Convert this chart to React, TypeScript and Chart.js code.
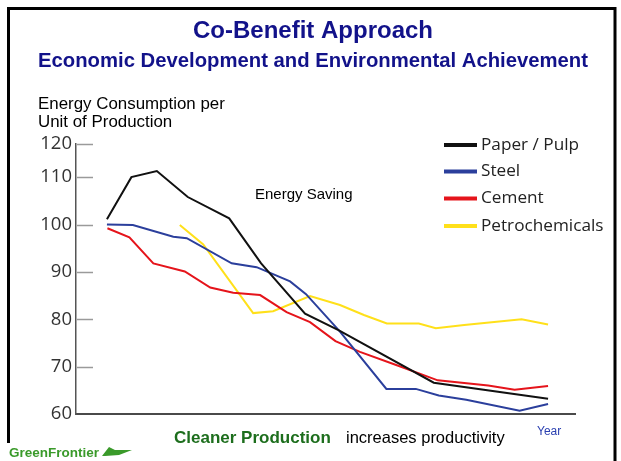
import React, { useEffect, useRef } from "react";
import { Chart, registerables } from "chart.js";

Chart.register(...registerables);

// ---- data ----
const seriesNames = ["Paper / Pulp", "Steel", "Cement", "Petrochemicals"];
const seriesColors = ["#111111", "#2b3f9c", "#e5141b", "#ffe01a"];

const paperX = [6.2, 11.1, 16.2, 22.4, 30.7, 37.1, 45.9, 52.6, 71.7, 94.6];
const paperY = [101.1, 110, 111.3, 105.8, 101.3, 91.8, 81.2, 77.7, 66.6, 63.2];

const steelX = [6.2, 11.4, 19.5, 22.2, 31.2, 36.2, 42.9, 46.1, 52.9, 62.2, 68.1, 72.7, 78.2, 88.9, 94.6];
const steelY = [100, 99.9, 97.4, 97.1, 91.8, 91.0, 88.0, 85.3, 77.4, 65.3, 65.3, 63.9, 63.0, 60.7, 62.1];

const cementX = [6.3, 10.7, 15.5, 21.8, 26.9, 31.5, 36.9, 42.2, 46.9, 52.0, 56.9, 64.3, 72.5, 82.6, 87.9, 94.6];
const cementY = [99.2, 97.3, 91.8, 90.1, 86.7, 85.6, 85.1, 81.5, 79.4, 75.4, 73.1, 70.3, 67.1, 66.0, 65.1, 65.9];

const petroX = [20.8, 25.5, 35.5, 39.5, 46.9, 52.9, 57.7, 62.3, 68.7, 72.1, 77.8, 89.3, 94.6];
const petroY = [99.9, 95.8, 81.3, 81.7, 84.9, 83.0, 80.9, 79.1, 79.1, 78.1, 78.8, 80.0, 78.9];

const yTickValues = [60, 70, 80, 90, 100, 110, 117.1];
const yTickLabels = ["60", "70", "80", "90", "100", "110", "120"];

const titleText = "Co-Benefit Approach";
const subtitleText = "Economic Development and Environmental Achievement";
const yAxisTitleLines = ["Energy Consumption per", "Unit of Production"];
const annotationText = "Energy Saving";
const footerBold = "Cleaner Production";
const footerRest = "increases productivity";
const xAxisTitle = "Year";
const logoText = "GreenFrontier";

const seriesX = [paperX, steelX, cementX, petroX];
const seriesY = [paperY, steelY, cementY, petroY];

const NAVY = "#12128a";
const ARIAL = "'Liberation Sans', Arial, sans-serif";
const SOFT = "'Open Sans', sans-serif";

const decorPlugin = {
  id: "decor",
  beforeDatasetsDraw(chart: any) {
    const ctx = chart.ctx;
    const y = chart.scales.y;
    const area = chart.chartArea;
    ctx.save();
    ctx.strokeStyle = "#9a9a9a";
    ctx.lineWidth = 1.5;
    yTickValues.forEach((v, i) => {
      if (i === 0) return;
      const py = Math.round(y.getPixelForValue(v)) + 0.5;
      ctx.beginPath();
      ctx.moveTo(area.left + 1, py);
      ctx.lineTo(area.left + 17, py);
      ctx.stroke();
    });
    ctx.restore();
  },
  afterDraw(chart: any) {
    const ctx = chart.ctx;
    ctx.save();
    // frame
    ctx.strokeStyle = "#000";
    ctx.lineWidth = 3;
    ctx.beginPath();
    ctx.moveTo(8.5, 443);
    ctx.lineTo(8.5, 8.5);
    ctx.lineTo(615, 8.5);
    ctx.lineTo(615, 470);
    ctx.stroke();

    // titles
    ctx.fillStyle = NAVY;
    ctx.textAlign = "center";
    ctx.textBaseline = "alphabetic";
    ctx.font = `bold 24px ${ARIAL}`;
    ctx.fillText(titleText, 313, 38);
    ctx.font = `bold 20.3px ${ARIAL}`;
    ctx.fillText(subtitleText, 313, 67);

    // y axis title
    ctx.fillStyle = "#000";
    ctx.textAlign = "left";
    ctx.font = `16.9px ${ARIAL}`;
    ctx.fillText(yAxisTitleLines[0], 38, 109);
    ctx.fillText(yAxisTitleLines[1], 38, 127);

    // annotation
    ctx.font = `15px ${ARIAL}`;
    ctx.fillText(annotationText, 255, 199);

    // footer
    ctx.font = `bold 17px ${ARIAL}`;
    ctx.fillStyle = "#1d6e1d";
    ctx.fillText(footerBold, 174, 443);
    ctx.font = `16.5px ${ARIAL}`;
    ctx.fillStyle = "#000";
    ctx.fillText(footerRest, 346, 443);

    // x axis title
    ctx.font = `12px ${ARIAL}`;
    ctx.fillStyle = "#2a3fb0";
    ctx.fillText(xAxisTitle, 537, 435);

    // legend
    const rows = [145, 171.5, 198.5, 226];
    ctx.font = `17.2px ${SOFT}`;
    ctx.textBaseline = "middle";
    seriesNames.forEach((name, i) => {
      const ry = rows[i];
      ctx.strokeStyle = seriesColors[i];
      ctx.lineWidth = 4;
      ctx.beginPath();
      ctx.moveTo(444, ry);
      ctx.lineTo(477, ry);
      ctx.stroke();
      ctx.fillStyle = "#222";
      ctx.fillText(name, 481, ry);
    });

    // logo
    ctx.textBaseline = "alphabetic";
    ctx.fillStyle = "#3a9a2a";
    ctx.font = `bold 13.5px ${ARIAL}`;
    ctx.fillText(logoText, 9, 457);
    ctx.beginPath();
    ctx.moveTo(102, 456);
    ctx.lineTo(109, 447);
    ctx.lineTo(115, 450);
    ctx.lineTo(132, 450);
    ctx.lineTo(119, 455);
    ctx.lineTo(105, 456);
    ctx.closePath();
    ctx.fill();
    ctx.restore();
  },
};

export default function App() {
  const ref = useRef<HTMLCanvasElement | null>(null);
  useEffect(() => {
    if (!ref.current) return;
    const datasets = seriesNames.map((name, i) => ({
      label: name,
      data: seriesX[i].map((x, j) => ({ x, y: seriesY[i][j] })),
      borderColor: seriesColors[i],
      backgroundColor: seriesColors[i],
      borderWidth: 2,
      pointRadius: 0,
      tension: 0,
      fill: false,
    }));
    const chart = new Chart(ref.current, {
      type: "line",
      data: { datasets },
      options: {
        animation: false,
        responsive: false,
        maintainAspectRatio: false,
        layout: { padding: { left: 0, top: 143.5, right: 46, bottom: 47 } },
        plugins: { legend: { display: false }, tooltip: { enabled: false } },
        scales: {
          x: {
            type: "linear",
            min: 0,
            max: 100,
            grid: { display: false, drawTicks: false },
            ticks: { display: false },
            border: { display: true, color: "#4a4a4a", width: 2 },
            afterFit: (s: any) => {
              s.height = 0;
            },
          },
          y: {
            type: "linear",
            min: 60,
            max: 117.1,
            afterBuildTicks: (s: any) => {
              s.ticks = yTickValues.map((v) => ({ value: v }));
            },
            ticks: {
              autoSkip: false,
              padding: 4,
              color: "#333",
              font: { family: SOFT, size: 18.5 },
              callback: (_v: any, i: number) => yTickLabels[i],
            },
            grid: { display: false, drawTicks: false },
            border: { display: true, color: "#555", width: 1.5 },
            afterFit: (s: any) => {
              s.width = 76;
            },
          },
        },
      },
      plugins: [decorPlugin],
    } as any);
    return () => chart.destroy();
  }, []);
  return (
    <div style={{ position: "absolute", left: 0, top: 0, width: 621, height: 461, background: "#fff" }}>
      <canvas ref={ref} width={621} height={461} style={{ display: "block" }} />
    </div>
  );
}
